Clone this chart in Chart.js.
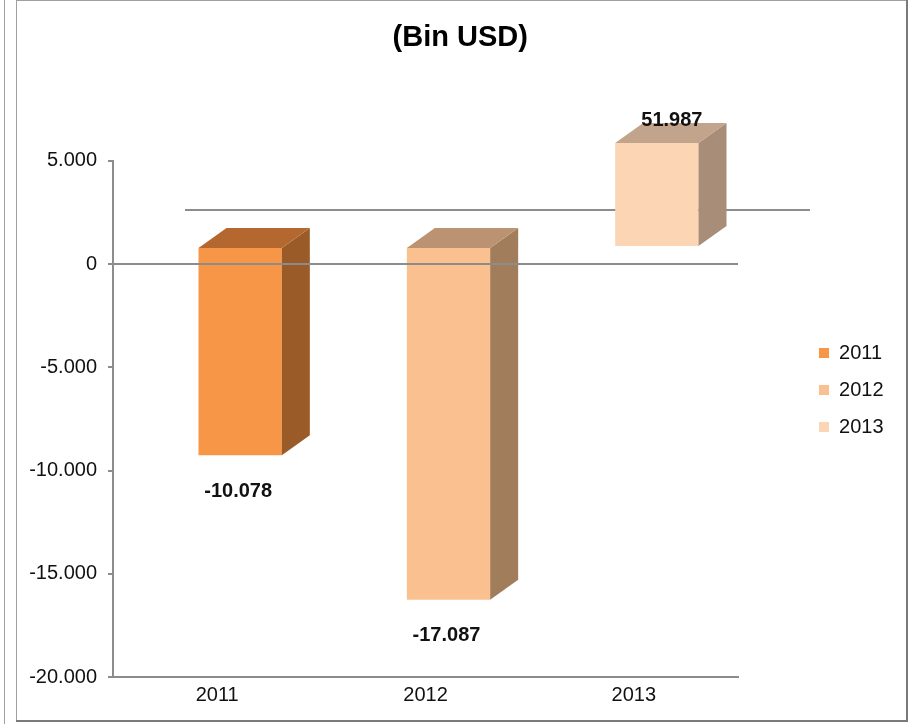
<!DOCTYPE html>
<html><head><meta charset="utf-8">
<script src="https://cdn.jsdelivr.net/npm/chart.js@4/dist/chart.umd.min.js"></script>
<style>
html,body{margin:0;padding:0;background:#fff;width:916px;height:724px;overflow:hidden;}
#wrap{position:absolute;left:0;top:0;width:916px;height:724px;}
.ln{position:absolute;background:#a0a0a0;pointer-events:none;}
</style></head><body>
<div id="wrap"><canvas id="c" width="916" height="724"></canvas></div>
<div class="ln" style="left:4px;top:0;width:1px;height:724px"></div>
<div class="ln" style="left:16px;top:0;width:1px;height:722px"></div>
<div class="ln" style="left:16px;top:0;width:892px;height:1px"></div>
<div class="ln" style="left:906px;top:0;width:2px;height:722px;background:#7a7a7a"></div>
<div class="ln" style="left:16px;top:720px;width:892px;height:2px;background:#7a7a7a"></div>
<script>
const categories = ['2011', '2012', '2013'];
const values = [-10078, -17087, 5040];
const valueLabels = ['-10.078', '-17.087', '51.987'];
const tickValues = [5000, 0, -5000, -10000, -15000, -20000];
const frontColors = ['#F79646', '#FAC090', '#FCD5B5'];
const sideColors = ['#9B5B29', '#A27D5C', '#A88D78'];
const topColors = ['#B4682F', '#BB9372', '#C2A48C'];

const FONT = "'Liberation Sans', Arial, sans-serif";
const DX = 23, DY = -17;      // projection of the bar front plane
const DEPTH_X = 28, DEPTH_Y = -20; // bar depth
const WALL_X = 72, WALL_Y = -54;   // back wall offset

function fmt(v) {
  const s = Math.abs(v).toString().replace(/\B(?=(\d{3})+(?!\d))/g, '.');
  return (v < 0 ? '-' : '') + s;
}

const bar3d = {
  id: 'bar3d',
  beforeDatasetsDraw(chart) {
    const {ctx, chartArea, scales: {y}} = chart;
    const y0 = y.getPixelForValue(0);
    ctx.save();
    ctx.strokeStyle = '#8c8c8c';
    ctx.lineWidth = 2;
    ctx.beginPath();
    ctx.moveTo(chartArea.left + WALL_X, y0 + WALL_Y);
    ctx.lineTo(chartArea.right + WALL_X, y0 + WALL_Y);
    ctx.stroke();
    ctx.restore();
    ctx.save();
    ctx.translate(DX, DY);
  },
  afterDatasetsDraw(chart) {
    const ctx = chart.ctx;
    const meta = chart.getDatasetMeta(0);
    const boxes = [];
    meta.data.forEach((bar, i) => {
      const p = bar.getProps(['x', 'y', 'base', 'width'], true);
      const l = p.x - p.width / 2, r = p.x + p.width / 2;
      const t = Math.min(p.y, p.base), b = Math.max(p.y, p.base);
      ctx.fillStyle = sideColors[i];
      ctx.beginPath();
      ctx.moveTo(r, t); ctx.lineTo(r + DEPTH_X, t + DEPTH_Y);
      ctx.lineTo(r + DEPTH_X, b + DEPTH_Y); ctx.lineTo(r, b);
      ctx.closePath(); ctx.fill();
      ctx.fillStyle = topColors[i];
      ctx.beginPath();
      ctx.moveTo(l, t); ctx.lineTo(l + DEPTH_X, t + DEPTH_Y);
      ctx.lineTo(r + DEPTH_X, t + DEPTH_Y); ctx.lineTo(r, t);
      ctx.closePath(); ctx.fill();
      boxes.push({x: p.x + DX, t: t + DY, b: b + DY, v: values[i]});
    });
    ctx.restore();
    ctx.save();
    ctx.font = 'bold 20px ' + FONT;
    ctx.fillStyle = '#111';
    ctx.textAlign = 'center';
    ctx.textBaseline = 'middle';
    boxes.forEach((bx, i) => {
      if (bx.v < 0) ctx.fillText(valueLabels[i], bx.x - 2, bx.b + 36);
      else ctx.fillText(valueLabels[i], bx.x + 15, bx.t - 22);
    });
    ctx.restore();
  }
};

new Chart(document.getElementById('c'), {
  type: 'bar',
  data: {
    labels: categories,
    datasets: [{
      data: values,
      backgroundColor: frontColors,
      borderWidth: 0,
      clip: false,
      barPercentage: 0.4,
      categoryPercentage: 1
    }]
  },
  plugins: [bar3d],
  options: {
    responsive: false,
    animation: false,
    events: [],
    layout: {padding: {left: 27, right: 22.5, top: 0, bottom: 11}},
    plugins: {
      title: {
        display: true, text: '(Bin USD)', color: '#000',
        font: {family: FONT, size: 29, weight: 'bold', lineHeight: 1.2},
        padding: {top: 21, bottom: 105}
      },
      legend: {
        display: true, position: 'right', align: 'center',
        title: {display: true, text: ' ', font: {size: 10, lineHeight: 1.2}, padding: {top: 55, bottom: 0}},
        labels: {
          boxWidth: 10, boxHeight: 10, padding: 17, color: '#111',
          font: {family: FONT, size: 20},
          generateLabels: (chart) => chart.data.labels.map((l, i) => ({
            text: l, fillStyle: frontColors[i], strokeStyle: frontColors[i],
            lineWidth: 0, hidden: false, index: i, fontColor: '#111'
          }))
        }
      },
      tooltip: {enabled: false}
    },
    scales: {
      x: {
        grid: {display: false, drawTicks: false},
        border: {display: true, color: '#8c8c8c', width: 2},
        ticks: {color: '#111', padding: 6, font: {family: FONT, size: 20}}
      },
      y: {
        min: -20000, max: 5000,
        afterFit: (s) => { s.width = 86; },
        afterBuildTicks: (s) => { s.ticks = tickValues.map(v => ({value: v})); },
        grid: {
          z: 1, drawOnChartArea: true, tickLength: 5, lineWidth: 2,
          tickColor: '#8c8c8c',
          color: (c) => (c.tick && c.tick.value === 0) ? '#8c8c8c' : 'rgba(0,0,0,0)'
        },
        border: {display: true, color: '#8c8c8c', width: 2, z: 1},
        ticks: {color: '#111', padding: 11, font: {family: FONT, size: 20}, callback: (v) => fmt(v)}
      },
      yR: {
        type: 'linear', position: 'right', display: true,
        afterFit: (s) => { s.width = 64; },
        grid: {display: false, drawTicks: false},
        border: {display: false},
        ticks: {display: false}
      }
    }
  }
});
</script>
</body></html>
